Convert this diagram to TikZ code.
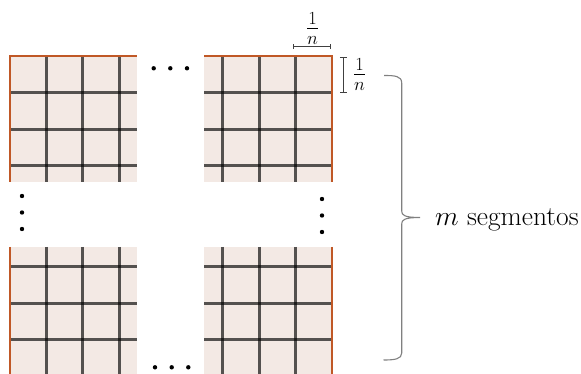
\RequirePackage{fix-cm}
\documentclass[tikz,border=0pt]{standalone}
\usetikzlibrary{arrows.meta}
\DeclareMathSizes{27.5}{27.5}{18.5}{13}
\definecolor{cellfill}{RGB}{243,233,228}
\definecolor{edgeorange}{RGB}{192,88,38}
\begin{document}
\begin{tikzpicture}[x=1pt,y=-1pt,
  gridline/.style={line width=2.6pt, black, opacity=0.65},
  edgeline/.style={line width=2pt, edgeorange},
  dimline/.style={line width=0.8pt, black!75},
  dotmark/.style={circle, fill=black, inner sep=0pt, minimum size=4.4pt},
  bigtext/.style={font=\fontsize{27.5}{32}\selectfont, inner sep=0pt},
  braceline/.style={line width=1.1pt, black!50}]
\useasboundingbox (0,0) rectangle (581,374);
% top-left block
\fill[cellfill] (9.5,56) rectangle (137,182);
\foreach \x in {46.5,82.5,119.5} \draw[gridline] (\x,56) -- (\x,182);
\foreach \y in {92.5,129.5,165.5} \draw[gridline] (9.5,\y) -- (137,\y);
\draw[edgeline] (9.5,182) -- (9.5,56) -- (137,56);
% top-right block
\fill[cellfill] (204,56) rectangle (332,182);
\foreach \x in {222.5,259.5,295.5} \draw[gridline] (\x,56) -- (\x,182);
\foreach \y in {92.5,129.5,165.5} \draw[gridline] (204,\y) -- (332,\y);
\draw[edgeline] (204,56) -- (332,56) -- (332,182);
% bottom-left block
\fill[cellfill] (9.5,247) rectangle (137,374);
\foreach \x in {46.5,82.5,119.5} \draw[gridline] (\x,247) -- (\x,374);
\foreach \y in {266.5,303.5,339.5} \draw[gridline] (9.5,\y) -- (137,\y);
\draw[edgeline] (9.5,247) -- (9.5,374);
% bottom-right block
\fill[cellfill] (204,247) rectangle (332,374);
\foreach \x in {222.5,259.5,295.5} \draw[gridline] (\x,247) -- (\x,374);
\foreach \y in {266.5,303.5,339.5} \draw[gridline] (204,\y) -- (332,\y);
\draw[edgeline] (332,247) -- (332,374);
% dots
\node[dotmark] (dt1) at (153.7,68.3) {};
\node[dotmark] (dt2) at (170.3,68.3) {};
\node[dotmark] (dt3) at (187,68.3) {};
\node[dotmark] (db1) at (155,367.3) {};
\node[dotmark] (db2) at (171.7,367.3) {};
\node[dotmark] (db3) at (188.3,367.3) {};
\node[dotmark] (dl1) at (22,196) {};
\node[dotmark] (dl2) at (22,212.5) {};
\node[dotmark] (dl3) at (22,229) {};
\node[dotmark] (dr1) at (322,199) {};
\node[dotmark] (dr2) at (322,215.5) {};
\node[dotmark] (dr3) at (322,232) {};
% dimensions
\coordinate (ha) at (293.3,46.7);
\coordinate (hb) at (331,46.7);
\draw[dimline, {Bar[width=5pt]}-{Bar[width=5pt]}] (ha) -- (hb);
\node[bigtext] (ltop) at (312.5,28.5) {$\frac{1}{n}$};
\coordinate (va) at (343.3,56.7);
\coordinate (vb) at (343.3,92.7);
\draw[dimline, {Bar[width=7pt]}-{Bar[width=7pt]}] (va) -- (vb);
\node[bigtext] (lright) at (359.5,74.5) {$\frac{1}{n}$};
% brace
\coordinate (bra) at (384,75.5);
\coordinate (brtip) at (420,217.5);
\coordinate (brb) at (383.5,360);
\draw[braceline] (bra) .. controls (395,75.5) and (401.7,76) .. (401.7,83)
  -- (401.7,211) .. controls (401.7,215) and (404,217.5) .. (brtip)
  .. controls (404,217.5) and (401.7,220) .. (401.7,224)
  -- (401.7,353) .. controls (401.7,359) and (395,360) .. (brb);
\node[bigtext, anchor=west] (lab) at (435,220) {$m$ segmentos};
\end{tikzpicture}
\end{document}
